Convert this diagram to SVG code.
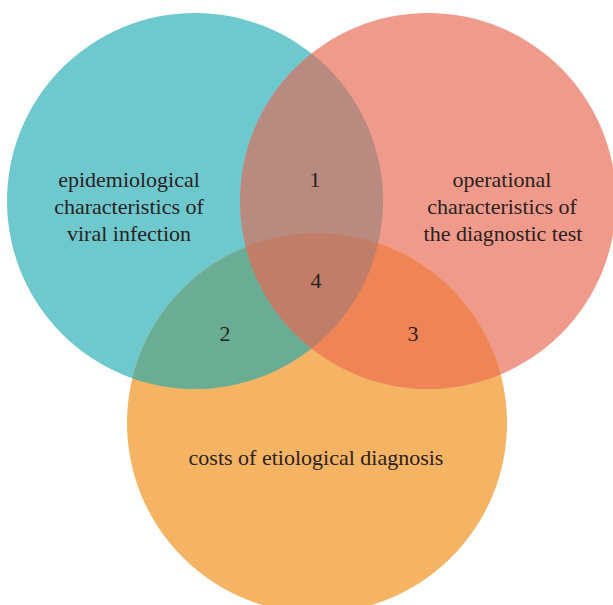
<svg xmlns="http://www.w3.org/2000/svg" width="613" height="605" viewBox="0 0 613 605">
  <defs>
    <clipPath id="clipA"><circle cx="195" cy="201" r="188"/></clipPath>
    <clipPath id="clipB"><circle cx="428" cy="201" r="188"/></clipPath>
  </defs>
  <rect width="613" height="605" fill="#ffffff"/>

  <!-- base sets -->
  <g id="set-epidemiological">
    <circle cx="195" cy="201" r="188" fill="#6ec9cf"/>
  </g>
  <g id="set-operational">
    <circle cx="428" cy="201" r="188" fill="#ef9a8b"/>
  </g>
  <g id="set-costs">
    <circle cx="317" cy="423" r="190" fill="#f4b464"/>
  </g>

  <!-- pairwise overlaps -->
  <g id="overlap-1">
    <circle cx="428" cy="201" r="188" fill="#b98a80" clip-path="url(#clipA)"/>
  </g>
  <g id="overlap-2">
    <circle cx="317" cy="423" r="190" fill="#69ae94" clip-path="url(#clipA)"/>
  </g>
  <g id="overlap-3">
    <circle cx="317" cy="423" r="190" fill="#ef8457" clip-path="url(#clipB)"/>
  </g>
  <!-- triple overlap -->
  <g id="overlap-4" clip-path="url(#clipA)">
    <circle cx="317" cy="423" r="190" fill="#c07d68" clip-path="url(#clipB)"/>
  </g>

  <!-- labels -->
  <g id="labels" font-family="Liberation Serif, serif" font-size="22" fill="#2b2220" text-anchor="middle">
    <text x="129" y="187">epidemiological</text>
    <text x="129" y="214">characteristics of</text>
    <text x="129" y="241">viral infection</text>
    <text x="502" y="187">operational</text>
    <text x="502" y="214">characteristics of</text>
    <text x="503" y="241">the diagnostic test</text>
    <text x="316" y="465">costs of etiological diagnosis</text>
    <text x="315" y="187">1</text>
    <text x="225" y="341">2</text>
    <text x="413" y="341">3</text>
    <text x="316" y="288">4</text>
  </g>
</svg>
